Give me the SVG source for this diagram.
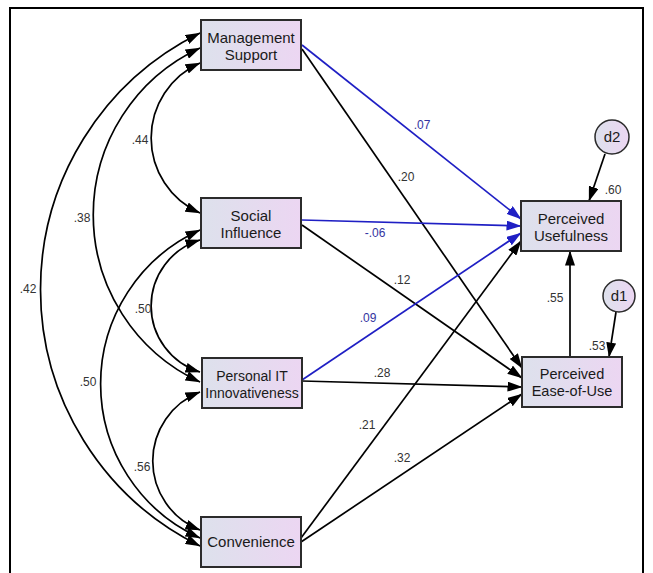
<svg xmlns="http://www.w3.org/2000/svg" width="653" height="573" viewBox="0 0 653 573">
<defs>
<linearGradient id="g" x1="0" y1="0" x2="1" y2="0">
<stop offset="0" stop-color="#dde1ec"/>
<stop offset="1" stop-color="#ecd6f2"/>
</linearGradient>
<marker id="ah" viewBox="0 0 15 10" refX="14.5" refY="5" markerWidth="15" markerHeight="10" markerUnits="userSpaceOnUse" orient="auto-start-reverse">
<path d="M0,0 L15,5 L0,10 z" fill="#000"/>
</marker>
<marker id="ahb" viewBox="0 0 15 10" refX="14.5" refY="5" markerWidth="15" markerHeight="10" markerUnits="userSpaceOnUse" orient="auto-start-reverse">
<path d="M0,0 L15,5 L0,10 z" fill="#1f1fc4"/>
</marker>
<style>
.box{fill:url(#g);stroke:#2b2b2b;stroke-width:2}
.t{font-family:"Liberation Sans",Arial,sans-serif;font-size:15px;fill:#1a1a1a;text-anchor:middle}
.l{font-family:"Liberation Sans",Arial,sans-serif;font-size:12px;fill:#333;text-anchor:middle}
.lb{fill:#3434a0}
.c{fill:none;stroke:#000;stroke-width:1.7;marker-end:url(#ah)}
.cv{marker-start:url(#ah)}
.b{fill:none;stroke:#1f1fc4;stroke-width:1.7;marker-end:url(#ahb)}
</style>
</defs>
<rect x="0" y="0" width="653" height="573" fill="#fff"/>
<rect x="10" y="8" width="633" height="600" fill="none" stroke="#000" stroke-width="2"/>
<g id="connectors">
<path class="c cv" d="M200,63 A82,82 0 0 0 200,213"/>
<path class="c cv" d="M200,48 A184,184 0 0 0 200,382"/>
<path class="c cv" d="M200,33 A286,286 0 0 0 200,546"/>
<path class="c cv" d="M200,240 A69,69 0 0 0 200,372"/>
<path class="c cv" d="M200,230 A169,169 0 0 0 200,538"/>
<path class="c cv" d="M200,392 A74,74 0 0 0 200,530"/>
<path class="b" d="M302,45 L521,219"/>
<path class="c" d="M302,49 L522,368"/>
<path class="b" d="M302,220 L521,226"/>
<path class="c" d="M302,225 L522,378"/>
<path class="b" d="M302,380 L521,233"/>
<path class="c" d="M302,381 L522,387"/>
<path class="c" d="M301,538 L521,241"/>
<path class="c" d="M301,542 L522,394"/>
<path class="c" d="M570,357 L570,251"/>
<path class="c" d="M616,312 L609,357"/>
<path class="c" d="M605,154 L589,201"/>
<text class="l" x="140" y="144">.44</text>
<text class="l" x="82" y="222">.38</text>
<text class="l" x="28" y="293">.42</text>
<text class="l" x="143" y="313">.50</text>
<text class="l" x="88" y="386">.50</text>
<text class="l" x="142" y="471">.56</text>
<text class="l lb" x="422" y="129">.07</text>
<text class="l" x="406" y="181">.20</text>
<text class="l lb" x="375" y="237">-.06</text>
<text class="l" x="402" y="284">.12</text>
<text class="l lb" x="368" y="322">.09</text>
<text class="l" x="382" y="377">.28</text>
<text class="l" x="367" y="429">.21</text>
<text class="l" x="402" y="462">.32</text>
<text class="l" x="555" y="302">.55</text>
<text class="l" x="597" y="350">.53</text>
<text class="l" x="613" y="194">.60</text>
</g>
<g id="ms"><rect class="box" x="201" y="20" width="100" height="50"/><text class="t" x="251" y="43">Management</text><text class="t" x="251" y="60">Support</text></g>
<g id="si"><rect class="box" x="201" y="198" width="100" height="50"/><text class="t" x="251" y="221">Social</text><text class="t" x="251" y="238">Influence</text></g>
<g id="pit"><rect class="box" x="202" y="358" width="100" height="50"/><text class="t" x="252" y="381" style="font-size:14px">Personal IT</text><text class="t" x="252" y="398" style="font-size:14px">Innovativeness</text></g>
<g id="conv"><rect class="box" x="201" y="517" width="100" height="50"/><text class="t" x="251" y="547">Convenience</text></g>
<g id="pu"><rect class="box" x="521" y="201" width="100" height="50"/><text class="t" x="571" y="224">Perceived</text><text class="t" x="571" y="241">Usefulness</text></g>
<g id="eou"><rect class="box" x="522" y="357" width="100" height="50"/><text class="t" x="572" y="379" style="font-size:14.5px">Perceived</text><text class="t" x="572" y="396" style="font-size:14.5px">Ease-of-Use</text></g>
<g id="d1"><circle cx="619" cy="296" r="16" fill="url(#g)" stroke="#2b2b2b" stroke-width="1.5"/><text class="t" x="619" y="301">d1</text></g>
<g id="d2"><circle cx="612" cy="137" r="17" fill="url(#g)" stroke="#2b2b2b" stroke-width="1.5"/><text class="t" x="612" y="142">d2</text></g>
</svg>
